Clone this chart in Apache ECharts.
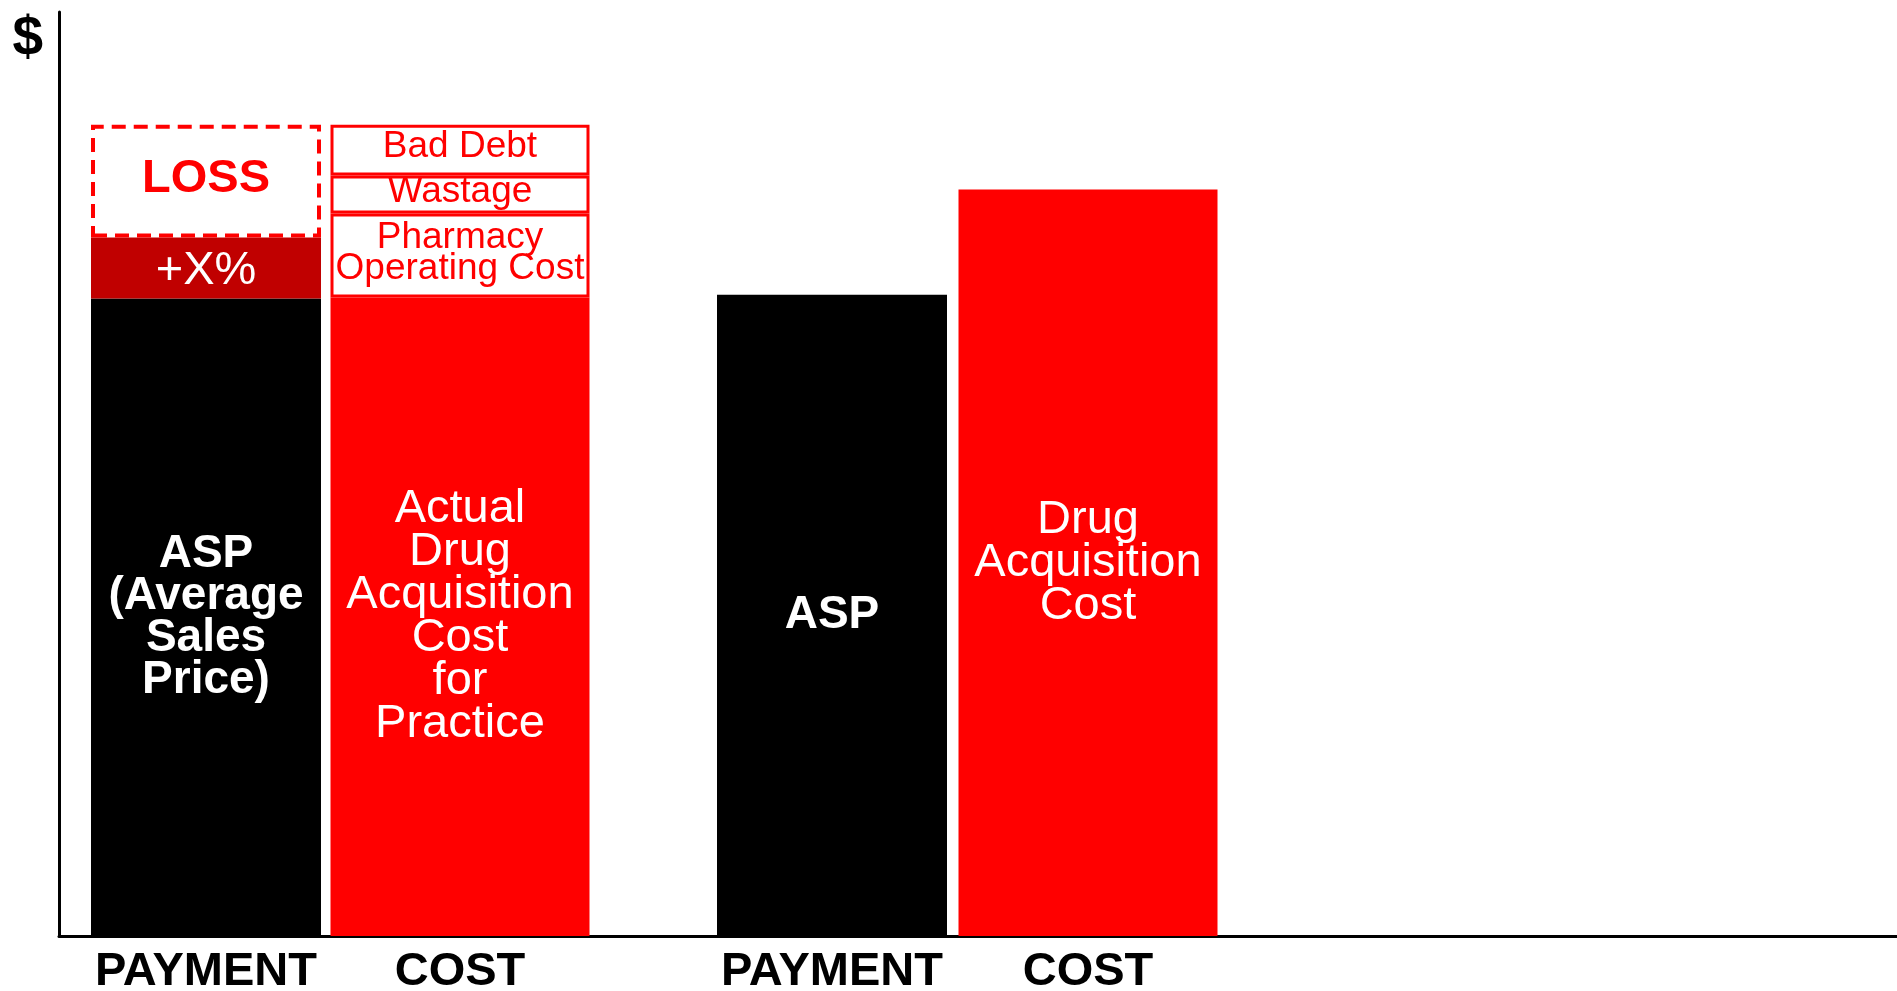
<!DOCTYPE html>
<html>
<head>
<meta charset="utf-8">
<script src="https://cdn.jsdelivr.net/npm/echarts@6/dist/echarts.min.js"></script>
<style>
  html, body { margin: 0; padding: 0; background: #ffffff; }
  #chart { width: 1897px; height: 991px; }
</style>
</head>
<body>
<div id="chart"></div>
<script>
// Column captions (the payment pair and the cost pair each sit on their own axis)
const paymentCategories = ['PAYMENT', 'PAYMENT'];
const costCategories = ['COST', 'COST'];

// Payment columns: ASP base, the +X% add-on, and the loss box above it
const aspValues = [69.0, 69.4];
const aspLabels = ['ASP\n(Average\nSales\nPrice)', 'ASP'];
const markupValues = [6.6, null];
const markupLabels = ['+X%', ''];
const lossValues = [12.2, null];
const lossLabels = ['LOSS', ''];

// Cost columns: acquisition cost plus the practice's extra costs
const acquisitionValues = [69.1, 80.8];
const acquisitionLabels = ['Actual\nDrug\nAcquisition\nCost\nfor\nPractice', 'Drug\nAcquisition\nCost'];
const pharmacyValues = [9.1, null];
const pharmacyLabels = ['Pharmacy\nOperating Cost', ''];
const wastageValues = [4.1, null];
const wastageLabels = ['Wastage', ''];
const badDebtValues = [5.5, null];
const badDebtLabels = ['Bad Debt', ''];

const FONT = '"Liberation Sans", Arial, Helvetica, sans-serif';
const RED = '#FF0000';
const DARK_RED = '#C00000';
const Y_MAX = 100;

function items(values, labels) {
  return values.map((v, i) => ({
    value: v == null ? '-' : v,
    label: { formatter: labels[i] }
  }));
}

const chart = echarts.init(document.getElementById('chart'), null, { renderer: 'canvas' });

const plotTop = 12;
const plotBottom = 55;

const hiddenY = {
  type: 'value',
  min: 0,
  max: Y_MAX,
  show: false
};

const captionAxis = {
  type: 'category',
  boundaryGap: false,
  axisLine: { show: false },
  axisTick: { show: false },
  splitLine: { show: false },
  axisLabel: {
    interval: 0,
    fontFamily: FONT,
    fontWeight: 'bold',
    fontSize: 47,
    color: '#000',
    margin: 13
  }
};

const boxStyle = { color: '#ffffff', borderColor: RED, borderWidth: 3 };

chart.setOption({
  animation: false,
  backgroundColor: '#ffffff',
  grid: [
    // frame with the two axis lines
    { left: 59, right: 0, top: plotTop, bottom: plotBottom, outerBoundsMode: 'none' },
    // payment columns
    { left: 206, width: 626, top: plotTop, bottom: plotBottom, outerBoundsMode: 'none' },
    // cost columns
    { left: 460, width: 628, top: plotTop, bottom: plotBottom, outerBoundsMode: 'none' }
  ],
  xAxis: [
    {
      gridIndex: 0,
      type: 'value',
      min: 0,
      max: 1,
      axisLine: { show: true, onZero: false, lineStyle: { color: '#000', width: 3 } },
      axisTick: { show: false },
      axisLabel: { show: false },
      splitLine: { show: false }
    },
    Object.assign({ gridIndex: 1, data: paymentCategories }, captionAxis),
    Object.assign({ gridIndex: 2, data: costCategories }, captionAxis)
  ],
  yAxis: [
    {
      gridIndex: 0,
      type: 'value',
      min: 0,
      max: Y_MAX,
      axisLine: { show: true, onZero: false, lineStyle: { color: '#000', width: 3 } },
      axisTick: { show: false },
      axisLabel: { show: false },
      splitLine: { show: false },
      name: '$',
      nameLocation: 'end',
      nameGap: -28,
      nameTextStyle: {
        fontFamily: FONT,
        fontWeight: 'bold',
        fontSize: 55,
        color: '#000',
        align: 'right',
        verticalAlign: 'middle',
        padding: [0, 16, 0, 0]
      }
    },
    Object.assign({ gridIndex: 1 }, hiddenY),
    Object.assign({ gridIndex: 2 }, hiddenY)
  ],
  series: [
    {
      name: 'ASP',
      type: 'bar',
      xAxisIndex: 1,
      yAxisIndex: 1,
      stack: 'payment',
      barWidth: 230,
      clip: false,
      data: items(aspValues, aspLabels),
      itemStyle: { color: '#000000' },
      label: {
        show: true,
        position: 'inside',
        fontFamily: FONT,
        fontWeight: 'bold',
        fontSize: 46,
        lineHeight: 42,
        color: '#ffffff'
      }
    },
    {
      name: '+X%',
      type: 'bar',
      xAxisIndex: 1,
      yAxisIndex: 1,
      stack: 'payment',
      clip: false,
      data: items(markupValues, markupLabels),
      itemStyle: { color: DARK_RED },
      label: {
        show: true,
        position: 'inside',
        offset: [0, 3],
        fontFamily: FONT,
        fontSize: 47,
        color: '#ffffff'
      }
    },
    {
      name: 'LOSS',
      type: 'bar',
      xAxisIndex: 1,
      yAxisIndex: 1,
      stack: 'payment',
      clip: false,
      data: items(lossValues, lossLabels),
      itemStyle: {
        color: '#ffffff',
        borderColor: RED,
        borderWidth: 4,
        borderType: [14, 8]
      },
      label: {
        show: true,
        position: 'inside',
        offset: [0, -2],
        fontFamily: FONT,
        fontWeight: 'bold',
        fontSize: 47,
        color: RED
      }
    },
    {
      name: 'Drug Acquisition Cost',
      type: 'bar',
      xAxisIndex: 2,
      yAxisIndex: 2,
      stack: 'cost',
      barWidth: 259,
      clip: false,
      data: items(acquisitionValues, acquisitionLabels),
      itemStyle: { color: RED },
      label: {
        show: true,
        position: 'inside',
        fontFamily: FONT,
        fontSize: 47,
        lineHeight: 43,
        color: '#ffffff'
      }
    },
    {
      name: 'Pharmacy Operating Cost',
      type: 'bar',
      xAxisIndex: 2,
      yAxisIndex: 2,
      stack: 'cost',
      clip: false,
      data: items(pharmacyValues, pharmacyLabels),
      itemStyle: boxStyle,
      label: {
        show: true,
        position: 'inside',
        offset: [0, -2],
        fontFamily: FONT,
        fontSize: 37,
        lineHeight: 31,
        color: RED
      }
    },
    {
      name: 'Wastage',
      type: 'bar',
      xAxisIndex: 2,
      yAxisIndex: 2,
      stack: 'cost',
      clip: false,
      data: items(wastageValues, wastageLabels),
      itemStyle: boxStyle,
      label: {
        show: true,
        position: 'inside',
        offset: [0, -3],
        fontFamily: FONT,
        fontSize: 37,
        color: RED
      }
    },
    {
      name: 'Bad Debt',
      type: 'bar',
      xAxisIndex: 2,
      yAxisIndex: 2,
      stack: 'cost',
      clip: false,
      data: items(badDebtValues, badDebtLabels),
      itemStyle: boxStyle,
      label: {
        show: true,
        position: 'inside',
        offset: [0, -3],
        fontFamily: FONT,
        fontSize: 37,
        color: RED
      }
    }
  ]
});
</script>
</body>
</html>
